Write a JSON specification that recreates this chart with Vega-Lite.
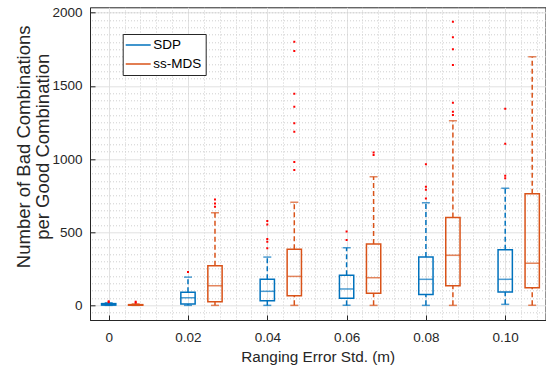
{
  "$schema": "https://vega.github.io/schema/vega-lite/v6.json",
  "width": 455.5,
  "height": 312.7,
  "autosize": "none",
  "padding": {"left": 90, "top": 7.3, "right": 0.5, "bottom": 48},
  "background": "white",
  "datasets": {
    "boxes": [
      {"err": 0, "method": "SDP", "lo": 0, "q1": 2, "med": 5, "q3": 12, "hi": 18},
      {"err": 0, "method": "ss-MDS", "lo": 0, "q1": 1, "med": 2, "q3": 5, "hi": 10},
      {"err": 0.02, "method": "SDP", "lo": 0, "q1": 9, "med": 52, "q3": 89, "hi": 193},
      {"err": 0.02, "method": "ss-MDS", "lo": 0, "q1": 25, "med": 134, "q3": 271, "hi": 633},
      {"err": 0.04, "method": "SDP", "lo": 0, "q1": 31, "med": 96, "q3": 178, "hi": 330},
      {"err": 0.04, "method": "ss-MDS", "lo": 0, "q1": 66, "med": 198, "q3": 383, "hi": 704},
      {"err": 0.06, "method": "SDP", "lo": 0, "q1": 48, "med": 112, "q3": 205, "hi": 394},
      {"err": 0.06, "method": "ss-MDS", "lo": 0, "q1": 82, "med": 189, "q3": 419, "hi": 879},
      {"err": 0.08, "method": "SDP", "lo": 0, "q1": 75, "med": 178, "q3": 330, "hi": 702},
      {"err": 0.08, "method": "ss-MDS", "lo": 0, "q1": 134, "med": 342, "q3": 601, "hi": 1262},
      {"err": 0.1, "method": "SDP", "lo": 7, "q1": 91, "med": 178, "q3": 380, "hi": 800},
      {"err": 0.1, "method": "ss-MDS", "lo": 0, "q1": 121, "med": 287, "q3": 763, "hi": 1699}
    ],
    "outliers": [
      {"err": 0, "method": "SDP", "v": 22},
      {"err": 0, "method": "SDP", "v": 28},
      {"err": 0, "method": "ss-MDS", "v": 18},
      {"err": 0, "method": "ss-MDS", "v": 25},
      {"err": 0.02, "method": "SDP", "v": 228},
      {"err": 0.02, "method": "ss-MDS", "v": 674},
      {"err": 0.02, "method": "ss-MDS", "v": 697},
      {"err": 0.02, "method": "ss-MDS", "v": 724},
      {"err": 0.04, "method": "SDP", "v": 390},
      {"err": 0.04, "method": "SDP", "v": 435},
      {"err": 0.04, "method": "SDP", "v": 453},
      {"err": 0.04, "method": "SDP", "v": 553},
      {"err": 0.04, "method": "SDP", "v": 576},
      {"err": 0.04, "method": "ss-MDS", "v": 925},
      {"err": 0.04, "method": "ss-MDS", "v": 979},
      {"err": 0.04, "method": "ss-MDS", "v": 1186},
      {"err": 0.04, "method": "ss-MDS", "v": 1244},
      {"err": 0.04, "method": "ss-MDS", "v": 1357},
      {"err": 0.04, "method": "ss-MDS", "v": 1446},
      {"err": 0.04, "method": "ss-MDS", "v": 1738},
      {"err": 0.04, "method": "ss-MDS", "v": 1802},
      {"err": 0.06, "method": "SDP", "v": 447},
      {"err": 0.06, "method": "SDP", "v": 504},
      {"err": 0.06, "method": "ss-MDS", "v": 1028},
      {"err": 0.06, "method": "ss-MDS", "v": 1044},
      {"err": 0.08, "method": "SDP", "v": 730},
      {"err": 0.08, "method": "SDP", "v": 790},
      {"err": 0.08, "method": "SDP", "v": 811},
      {"err": 0.08, "method": "SDP", "v": 964},
      {"err": 0.08, "method": "ss-MDS", "v": 1301},
      {"err": 0.08, "method": "ss-MDS", "v": 1323},
      {"err": 0.08, "method": "ss-MDS", "v": 1385},
      {"err": 0.08, "method": "ss-MDS", "v": 1643},
      {"err": 0.08, "method": "ss-MDS", "v": 1750},
      {"err": 0.08, "method": "ss-MDS", "v": 1832},
      {"err": 0.08, "method": "ss-MDS", "v": 1938},
      {"err": 0.1, "method": "SDP", "v": 868},
      {"err": 0.1, "method": "SDP", "v": 886},
      {"err": 0.1, "method": "SDP", "v": 1105},
      {"err": 0.1, "method": "SDP", "v": 1344}
    ]
  },
  "layer": [
    {
      "data": {"name": "boxes"},
      "mark": {"type": "bar", "filled": false, "width": 14.3, "strokeWidth": 1.5, "xOffset": {"expr": "datum.method == 'ss-MDS' ? 27 : 0"}, "clip": true},
      "encoding": {
        "x": {
          "field": "err", "type": "quantitative",
          "scale": {"domain": [-0.00345, 0.1089], "nice": false, "zero": false},
          "axis": {
            "orient": "bottom",
            "values": [0, 0.02, 0.04, 0.06, 0.08, 0.1],
            "labelExpr": "datum.value == 0 ? '0' : format(datum.value, '.2f')",
            "title": "Ranging Error Std. (m)",
            "grid": true, "gridColor": "#e2e2e2", "gridWidth": 1,
            "tickSize": -5, "tickColor": "#262626", "domainColor": "#262626",
            "labelPadding": 15, "labelFontSize": 13.5, "labelColor": "#262626",
            "titleFontSize": 15.3, "titleFontWeight": "normal", "titleColor": "#262626",
            "titleY": 36, "titleBaseline": "middle"
          }
        },
        "y": {
          "field": "q1", "type": "quantitative",
          "scale": {"domain": [-100, 2037], "nice": false, "zero": false},
          "axis": {
            "orient": "left",
            "values": [0, 500, 1000, 1500, 2000],
            "format": "d",
            "title": ["Number of Bad Combinations", "per Good Combination"],
            "grid": true, "gridColor": "#e2e2e2", "gridWidth": 1,
            "tickSize": -5, "tickColor": "#262626", "domainColor": "#262626",
            "labelPadding": 13, "labelFontSize": 13.5, "labelColor": "#262626",
            "titleFontSize": 18.5, "titleFontWeight": "normal", "titleColor": "#262626",
            "titleX": -66.5, "titleY": 139, "titleBaseline": "middle", "titleAlign": "center", "titleLineHeight": 19
          }
        },
        "y2": {"field": "q3"},
        "color": {
          "field": "method", "type": "nominal",
          "scale": {"domain": ["SDP", "ss-MDS"], "range": ["#0072BD", "#D95319"]},
          "legend": {"title": null}
        }
      }
    },
    {
      "data": {"name": "boxes"},
      "mark": {"type": "rule", "strokeWidth": 1.5, "strokeDash": [5, 3], "xOffset": {"expr": "datum.method == 'ss-MDS' ? 27 : 0"}, "clip": true},
      "encoding": {
        "x": {
          "field": "err", "type": "quantitative",
          "axis": {
            "orient": "top",
            "values": [0.004, 0.008, 0.012, 0.016, 0.024, 0.028, 0.032, 0.036, 0.044, 0.048, 0.052, 0.056, 0.064, 0.068, 0.072, 0.076, 0.084, 0.088, 0.092, 0.096, 0.104, 0.108],
            "grid": true, "gridDash": [1, 2], "gridColor": "#cfcfcf", "gridWidth": 1,
            "labels": false, "ticks": false, "domain": false, "title": null
          }
        },
        "y": {
          "field": "q3", "type": "quantitative",
          "axis": {
            "orient": "right",
            "values": [-50, 50, 100, 150, 200, 250, 300, 350, 400, 450, 550, 600, 650, 700, 750, 800, 850, 900, 950, 1050, 1100, 1150, 1200, 1250, 1300, 1350, 1400, 1450, 1550, 1600, 1650, 1700, 1750, 1800, 1850, 1900, 1950, 2000],
            "grid": true, "gridDash": [1, 2], "gridColor": "#cfcfcf", "gridWidth": 1,
            "labels": false, "ticks": false, "domain": false, "title": null
          }
        },
        "y2": {"field": "hi"},
        "color": {"field": "method", "type": "nominal", "legend": null}
      }
    },
    {
      "data": {"name": "boxes"},
      "mark": {"type": "rule", "strokeWidth": 1.5, "strokeDash": [5, 3], "xOffset": {"expr": "datum.method == 'ss-MDS' ? 27 : 0"}, "clip": true},
      "encoding": {
        "x": {"field": "err", "type": "quantitative", "axis": null},
        "y": {"field": "lo", "type": "quantitative", "axis": null},
        "y2": {"field": "q1"},
        "color": {"field": "method", "type": "nominal", "legend": null}
      }
    },
    {
      "data": {"name": "boxes"},
      "mark": {"type": "tick", "orient": "horizontal", "size": 14.3, "thickness": 1.5, "xOffset": {"expr": "datum.method == 'ss-MDS' ? 27 : 0"}, "clip": true},
      "encoding": {
        "x": {"field": "err", "type": "quantitative", "axis": null},
        "y": {"field": "med", "type": "quantitative", "axis": null},
        "color": {"field": "method", "type": "nominal", "legend": null}
      }
    },
    {
      "data": {"name": "boxes"},
      "mark": {"type": "tick", "orient": "horizontal", "size": 8, "thickness": 1.5, "xOffset": {"expr": "datum.method == 'ss-MDS' ? 27 : 0"}, "clip": true},
      "encoding": {
        "x": {"field": "err", "type": "quantitative", "axis": null},
        "y": {"field": "hi", "type": "quantitative", "axis": null},
        "color": {"field": "method", "type": "nominal", "legend": null}
      }
    },
    {
      "data": {"name": "boxes"},
      "mark": {"type": "tick", "orient": "horizontal", "size": 8, "thickness": 1.5, "xOffset": {"expr": "datum.method == 'ss-MDS' ? 27 : 0"}, "clip": true},
      "encoding": {
        "x": {"field": "err", "type": "quantitative", "axis": null},
        "y": {"field": "lo", "type": "quantitative", "axis": null},
        "color": {"field": "method", "type": "nominal", "legend": null}
      }
    },
    {
      "data": {"name": "outliers"},
      "mark": {"type": "point", "shape": "square", "filled": true, "size": 4, "opacity": 1, "color": "#ff0000", "xOffset": {"expr": "datum.method == 'ss-MDS' ? 27 : 0"}, "clip": true},
      "encoding": {
        "x": {"field": "err", "type": "quantitative", "axis": null},
        "y": {"field": "v", "type": "quantitative", "axis": null}
      }
    }
  ],
  "resolve": {"axis": {"x": "independent", "y": "independent"}},
  "config": {
    "font": "Liberation Sans",
    "view": {"stroke": "#262626", "strokeWidth": 1},
    "axis": {"labelFont": "Liberation Sans", "titleFont": "Liberation Sans"},
    "legend": {
      "orient": "none", "legendX": 32.7, "legendY": 26.7,
      "fillColor": "white", "strokeColor": "#262626", "strokeWidth": 1,
      "padding": 4, "rowPadding": 5,
      "symbolType": "M-2,0H2", "symbolSize": 156, "symbolStrokeWidth": 1.5,
      "symbolOffset": 4.5, "labelOffset": 8,
      "labelFont": "Liberation Sans", "labelFontSize": 13.5, "labelColor": "#000000"
    }
  }
}
